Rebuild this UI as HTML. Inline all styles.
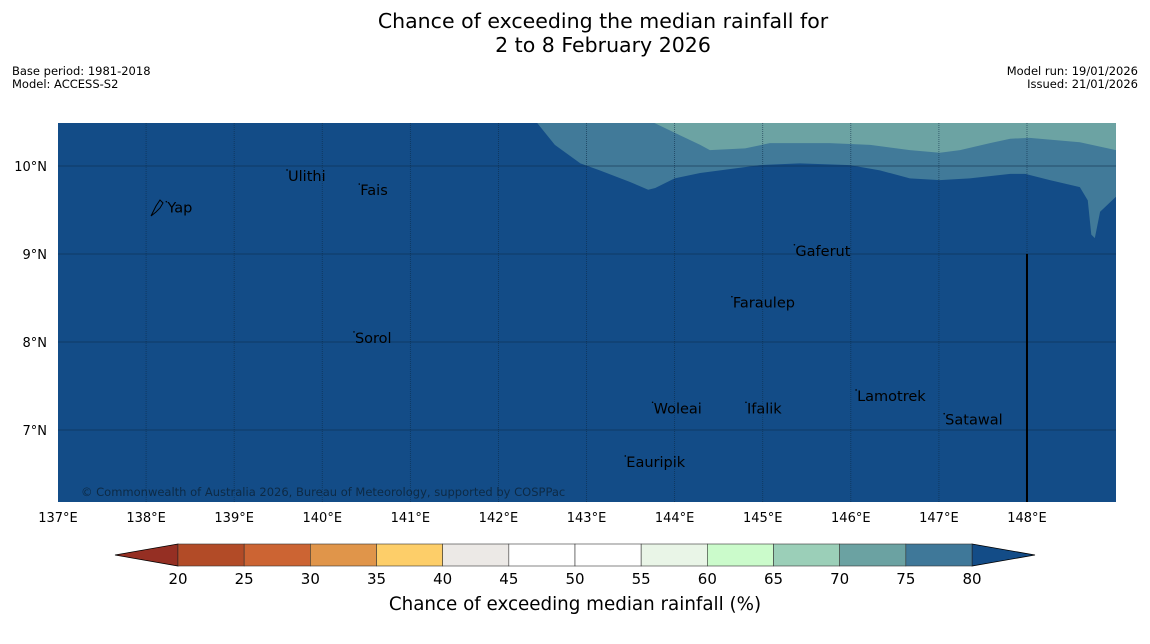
<!DOCTYPE html>
<html><head><meta charset="utf-8"><style>
body{margin:0;background:#fff;font-family:"Liberation Sans","DejaVu Sans",sans-serif;}
svg{display:block}
text{font-family:"DejaVu Sans","Liberation Sans",sans-serif;}
</style></head><body>
<svg id="chart" width="1150" height="644" viewBox="0 0 1150 644">
<text x="603" y="28" text-anchor="middle" font-size="20.5">Chance of exceeding the median rainfall for</text>
<text x="603" y="52" text-anchor="middle" font-size="20.5">2 to 8 February 2026</text>
<text x="12" y="75" font-size="11.5">Base period: 1981-2018</text>
<text x="12" y="88" font-size="11.5">Model: ACCESS-S2</text>
<text x="1138" y="75" font-size="11.5" text-anchor="end">Model run: 19/01/2026</text>
<text x="1138" y="88" font-size="11.5" text-anchor="end">Issued: 21/01/2026</text>
<g id="map"></g>
<g id="cbar"></g>
</svg>
<script>
const lonTicks=[137,138,139,140,141,142,143,144,145,146,147,148];
const latTicks=[7,8,9,10];
const contour80Lon=[142.44,142.64,142.93,143.15,143.49,143.70,143.78,144.00,144.29,144.97,145.42,145.99,146.33,146.67,147.01,147.35,147.81,147.98,148.26,148.60,148.69,148.73,148.77,148.83,149.01];
const contour80Lat=[10.49,10.24,10.03,9.95,9.82,9.73,9.75,9.86,9.92,10.01,10.03,10.01,9.95,9.86,9.84,9.86,9.91,9.91,9.84,9.76,9.61,9.22,9.18,9.48,9.65];
const contour75Lon=[143.77,144.06,144.29,144.40,144.80,145.08,145.76,146.22,146.67,147.01,147.24,147.58,147.81,148.03,148.60,149.01];
const contour75Lat=[10.49,10.35,10.24,10.18,10.20,10.26,10.26,10.24,10.18,10.15,10.18,10.26,10.31,10.32,10.27,10.18];
const placeNames=["Yap","Ulithi","Fais","Gaferut","Faraulep","Sorol","Woleai","Ifalik","Lamotrek","Satawal","Eauripik"];
const placeLon=[138.23,139.60,140.42,145.36,144.65,140.36,143.75,144.81,146.06,147.06,143.44];
const placeLat=[9.47,9.83,9.67,8.98,8.39,7.99,7.19,7.19,7.33,7.06,6.58];
const cbLevels=[20,25,30,35,40,45,50,55,60,65,70,75,80];
const cbColors=["#b24b27","#cc6433","#e0954a","#fdce69","#ece9e6","#ffffff","#ffffff","#e9f5e7","#cbfbcb","#9bcfb8","#6ba2a2","#3f7899"];
const X0=58,X1=1116,Y0=123,Y1=502,LON0=137,LAT0=10;
const lx=l=>X0+(l-LON0)*88.09, ly=l=>166-(l-LAT0)*88;
const NS="http://www.w3.org/2000/svg";
function mk(p,t,a){const e=document.createElementNS(NS,t);for(const k in a)e.setAttribute(k,a[k]);p.appendChild(e);return e;}
const map=document.getElementById('map');
const bg=mk(map,'rect',{x:X0,y:Y0,width:X1-X0,height:Y1-Y0,fill:'#134c87'});


function poly(lons,lats,fill,name){
  let pts=`${X1},${Y0} `+lons.map((l,i)=>`${Math.min(X1,lx(l))},${Math.max(Y0,ly(lats[i]))}`).join(' ')+` ${X1},${Y0}`;
  const e=mk(map,'polygon',{points:pts,fill:fill});
  
  
}
poly(contour80Lon,contour80Lat,'#417a99','contour-75-80');
poly(contour75Lon,contour75Lat,'#6ca3a3','contour-70-75');
lonTicks.forEach(l=>{const x=lx(l);
  if(l>137){const g=mk(map,'line',{x1:x,x2:x,y1:Y0,y2:Y1,stroke:'#0d2a45',"stroke-width":0.8,"stroke-dasharray":"1,1",opacity:0.7});
  
  }
  const t=mk(map,'text',{x:x,y:522,"text-anchor":"middle","font-size":13});t.textContent=l+'°E';
  
  });
latTicks.forEach(l=>{const y=ly(l);
  const g=mk(map,'line',{x1:X0,x2:X1,y1:y,y2:y,stroke:'#0d2a45',"stroke-width":0.8,opacity:0.7});
  
  
  const t=mk(map,'text',{x:47,y:y+5,"text-anchor":"end","font-size":13});t.textContent=l+'°N';
  
  });
const vl=mk(map,'line',{x1:lx(148),x2:lx(148),y1:ly(9),y2:Y1,stroke:'#000',"stroke-width":2});


const yap=mk(map,'path',{d:"M151,216 L156,206 L160,200 L163,203 L160,208 L156,212 Z",fill:'none',stroke:'#000',"stroke-width":1});


placeNames.forEach((n,i)=>{const x=lx(placeLon[i]),y=ly(placeLat[i]);
  const d=mk(map,'circle',{cx:x,cy:y-11,r:0.8,fill:'#000'});
  
  
  const t=mk(map,'text',{x:x+1,y:y,"font-size":14.5,fill:'#000'});t.textContent=n;
  
  });
const cp=mk(map,'text',{x:81,y:496,"font-size":11.5,fill:'#0d2a45'});cp.textContent='© Commonwealth of Australia 2026, Bureau of Meteorology, supported by COSPPac';


const cb=document.getElementById('cbar');
const CB0=178,CB1=972,CBY=544,CBH=22;
const cx=v=>CB0+(v-cbLevels[0])/(cbLevels[cbLevels.length-1]-cbLevels[0])*(CB1-CB0);
const lt=mk(cb,'polygon',{points:`${CB0},${CBY} ${CB0-63},${CBY+11} ${CB0},${CBY+CBH}`,fill:'#952f23',stroke:'#000',"stroke-width":0.8});


const rt=mk(cb,'polygon',{points:`${CB1},${CBY} ${CB1+63},${CBY+11} ${CB1},${CBY+CBH}`,fill:'#134c87',stroke:'#000',"stroke-width":0.8});


cbColors.forEach((c,i)=>{const r=mk(cb,'rect',{x:cx(cbLevels[i]),y:CBY,width:cx(cbLevels[i+1])-cx(cbLevels[i]),height:CBH,fill:c,stroke:'#333',"stroke-width":0.6});
  
  });
cbLevels.forEach(v=>{const t=mk(cb,'text',{x:cx(v),y:584,"text-anchor":"middle","font-size":15});t.textContent=v;
  
  });
const ct=mk(cb,'text',{x:575,y:610,"text-anchor":"middle","font-size":18.3});ct.textContent='Chance of exceeding median rainfall (%)';


</script>
</body></html>
